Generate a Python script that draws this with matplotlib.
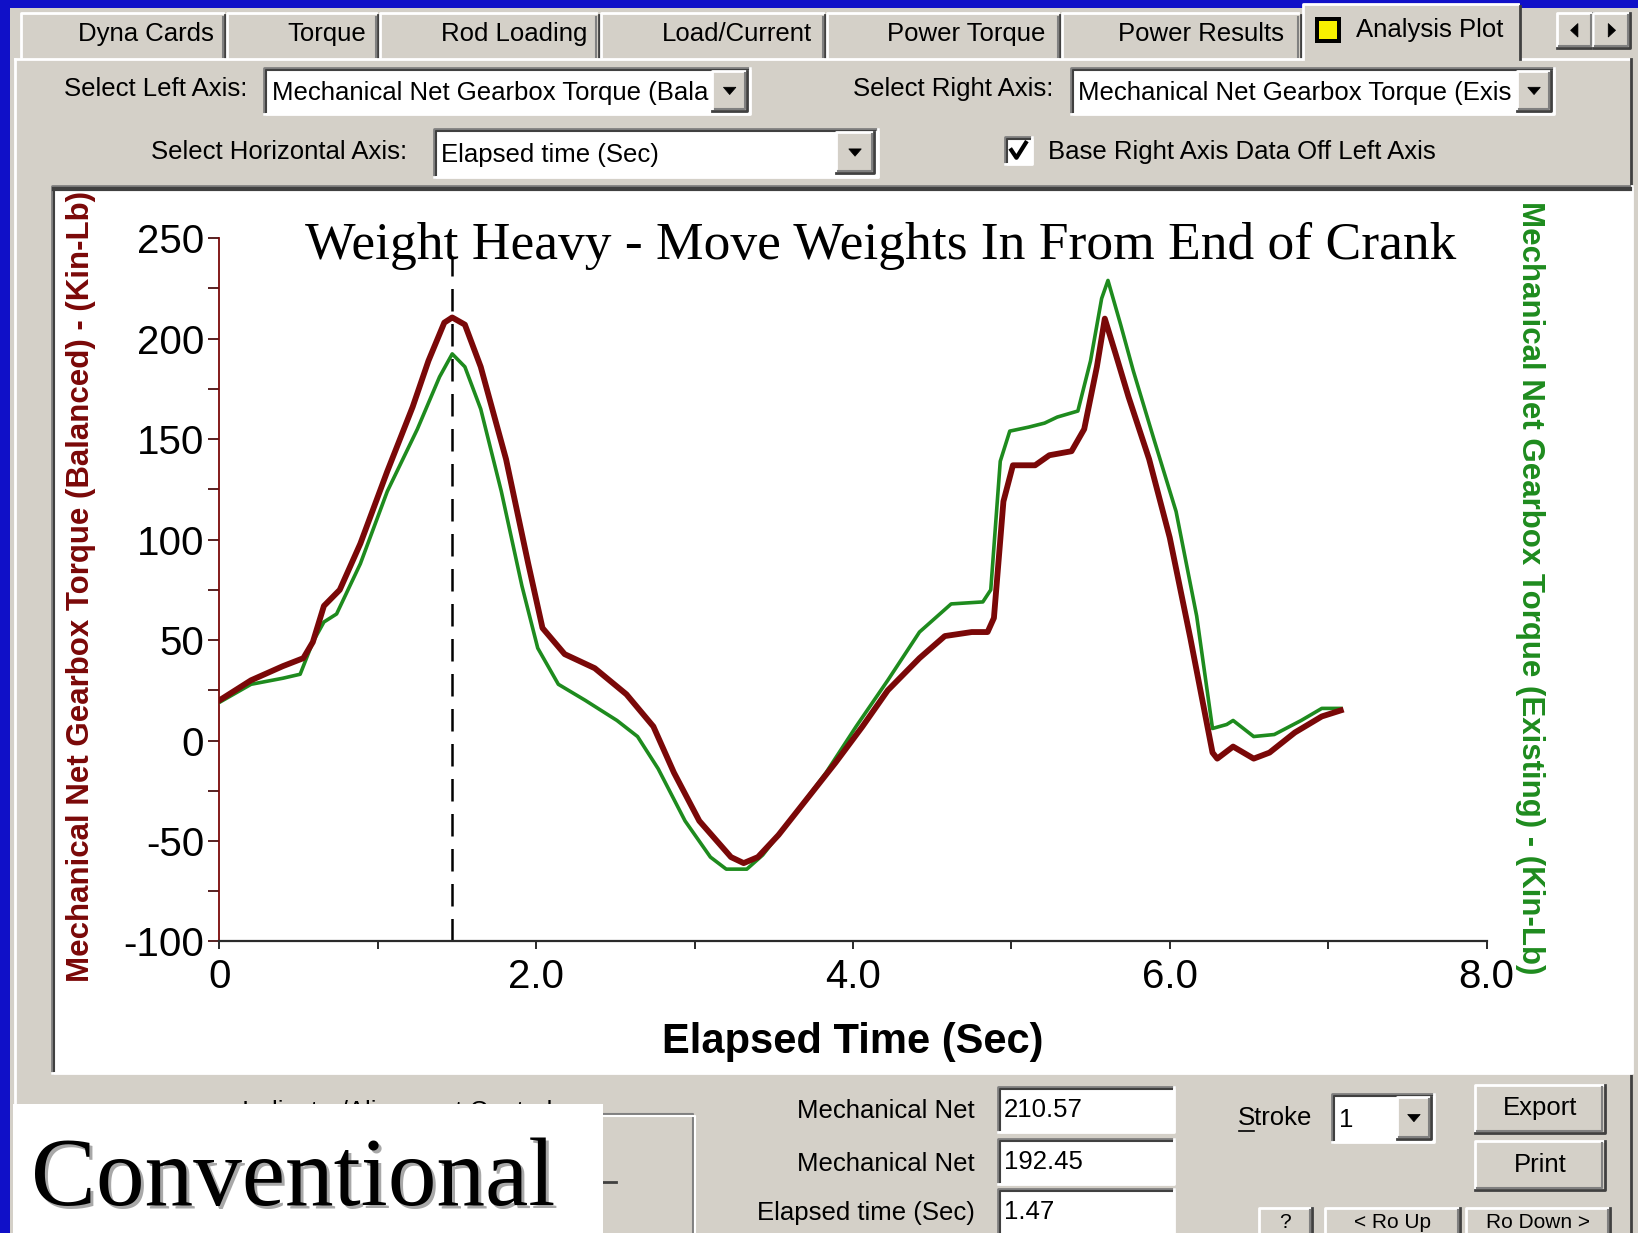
import numpy as np
import matplotlib
matplotlib.use("Agg")
import matplotlib.pyplot as plt
from matplotlib.patches import Rectangle, Polygon
from matplotlib.lines import Line2D

# ---------------------------------------------------------------------------
# Gearbox torque over one stroke (Kin-Lb)
# ---------------------------------------------------------------------------
time_balanced = [0.00, 0.20, 0.40, 0.53, 0.59, 0.66, 0.76, 0.89, 1.06, 1.22,
                 1.32, 1.42, 1.47, 1.55, 1.65, 1.81, 1.95, 2.04, 2.18, 2.37,
                 2.57, 2.74, 2.87, 3.03, 3.23, 3.31, 3.40, 3.53, 3.69, 3.89,
                 4.06, 4.22, 4.42, 4.58, 4.75, 4.85, 4.89, 4.95, 5.01, 5.15,
                 5.24, 5.38, 5.46, 5.54, 5.59, 5.66, 5.74, 5.87, 6.00, 6.13,
                 6.27, 6.30, 6.40, 6.53, 6.63, 6.79, 6.96, 7.08]
torque_balanced = [20, 30, 37, 41, 49, 67, 75, 98, 134, 166,
                   189, 208, 210.57, 207, 186, 140, 88, 56, 43, 36,
                   23, 7, -16, -40, -58, -61, -58, -47, -31, -11,
                   7, 25, 41, 52, 54, 54, 61, 119, 137, 137,
                   142, 144, 155, 186, 210, 192, 171, 140, 101, 51,
                   -6, -9, -3, -9, -6, 4, 12, 15]

time_existing = [0.00, 0.20, 0.40, 0.51, 0.59, 0.66, 0.74, 0.89, 1.06, 1.25,
                 1.39, 1.47, 1.55, 1.65, 1.78, 1.91, 2.01, 2.14, 2.31, 2.51,
                 2.64, 2.77, 2.94, 3.10, 3.20, 3.33, 3.43, 3.63, 3.83, 4.02,
                 4.22, 4.42, 4.62, 4.82, 4.87, 4.93, 4.99, 5.11, 5.21, 5.29,
                 5.42, 5.50, 5.57, 5.61, 5.69, 5.77, 5.90, 6.04, 6.17, 6.27,
                 6.36, 6.40, 6.53, 6.66, 6.83, 6.96, 7.08]
torque_existing = [19, 28, 31, 33, 49, 59, 63, 88, 124, 155,
                   181, 192.45, 186, 165, 124, 77, 46, 28, 20, 10,
                   2, -14, -40, -58, -64, -64, -57, -37, -16, 7,
                   30, 54, 68, 69, 75, 139, 154, 156, 158, 161,
                   164, 189, 220, 229, 207, 184, 150, 114, 62, 6,
                   8, 10, 2, 3, 10, 16, 16]

cursor_time = 1.47

x_ticks = [0, 2, 4, 6, 8]
x_tick_labels = ["0", "2.0", "4.0", "6.0", "8.0"]
x_minor = [1, 3, 5, 7]
y_ticks = [-100, -50, 0, 50, 100, 150, 200, 250]
y_tick_labels = ["-100", "-50", "0", "50", "100", "150", "200", "250"]
y_minor = [-75, -25, 25, 75, 125, 175, 225]

tab_names = ["Dyna Cards", "Torque", "Rod Loading", "Load/Current",
             "Power Torque", "Power Results", "Analysis Plot"]

title_text = "Weight Heavy - Move Weights In From End of Crank"
left_label = "Mechanical Net Gearbox Torque (Balanced) - (Kin-Lb)"
right_label = "Mechanical Net Gearbox Torque (Existing) - (Kin-Lb)"
x_label = "Elapsed Time (Sec)"

# ---------------------------------------------------------------------------
# Styling
# ---------------------------------------------------------------------------
BLUE = "#1010C8"
GRAY = "#D4D0C8"
DARK = "#808080"
DARKER = "#404040"
RED = "#7A0808"
GREEN = "#1E8B1E"
UI = "Liberation Sans"
SERIF = "Liberation Serif"
UI_SIZE = 18.5

W, H = 1568.0, 1180.0   # layout grid used for placing window elements

fig = plt.figure(figsize=(16.38, 12.33), dpi=100)
fig.patch.set_facecolor(BLUE)


def rect(x0, y0, x1, y1, fc, ec="none", lw=0, z=1):
    fig.add_artist(Rectangle((x0 / W, 1 - y1 / H), (x1 - x0) / W, (y1 - y0) / H,
                             transform=fig.transFigure, fc=fc, ec=ec, lw=lw,
                             zorder=z))


def line(xs, ys, color, lw=1.5, z=2, **kw):
    fig.add_artist(Line2D([x / W for x in xs], [1 - y / H for y in ys],
                          transform=fig.transFigure, color=color, lw=lw,
                          zorder=z, **kw))


def sunken(x0, y0, x1, y1, fc="white", z=2):
    rect(x0, y0, x1, y1, fc, z=z)
    line([x0, x0, x1], [y1, y0, y0], DARK, lw=2, z=z + 0.1)
    line([x0 + 2, x0 + 2, x1 - 2], [y1 - 2, y0 + 2, y0 + 2], DARKER, lw=1.5, z=z + 0.1)
    line([x0, x1, x1], [y1, y1, y0], "white", lw=2, z=z + 0.1)


def raised(x0, y0, x1, y1, fc=GRAY, z=2):
    rect(x0, y0, x1, y1, fc, z=z)
    line([x0, x0, x1], [y1, y0, y0], "white", lw=2, z=z + 0.1)
    line([x0, x1, x1], [y1, y1, y0], DARKER, lw=2, z=z + 0.1)
    line([x0 + 2, x1 - 2, x1 - 2], [y1 - 2, y1 - 2, y0 + 2], DARK, lw=1.5, z=z + 0.1)


def label(x, y, s, size=UI_SIZE, ha="left", va="center", color="black", z=5, **kw):
    fig.text(x / W, 1 - y / H, s, fontsize=size, ha=ha, va=va, color=color,
             family=UI, zorder=z, **kw)


def triangle(cx, cy, w, h, direction="down", z=6):
    if direction == "down":
        pts = [(cx - w / 2, cy - h / 2), (cx + w / 2, cy - h / 2), (cx, cy + h / 2)]
    elif direction == "left":
        pts = [(cx + h / 2, cy - w / 2), (cx + h / 2, cy + w / 2), (cx - h / 2, cy)]
    else:
        pts = [(cx - h / 2, cy - w / 2), (cx - h / 2, cy + w / 2), (cx + h / 2, cy)]
    fig.add_artist(Polygon([(px / W, 1 - py / H) for px, py in pts], closed=True,
                           transform=fig.transFigure, fc="black", ec="black",
                           lw=0.5, zorder=z))


def combo(x0, y0, x1, y1, text, btn_w=34):
    sunken(x0, y0, x1, y1)
    raised(x1 - btn_w - 2, y0 + 3, x1 - 3, y1 - 3, z=3)
    triangle(x1 - 3 - (btn_w - 1) / 2, (y0 + y1) / 2, 12, 7, "down")
    label(x0 + 7, (y0 + y1) / 2 + 2, text)


# ---------------------------------------------------------------------------
# Window body and tab strip
# ---------------------------------------------------------------------------
rect(10, 8, W + 2, H + 2, GRAY, z=0.5)

tab_edges = [(20, 215), (217, 362), (364, 573), (575, 790), (792, 1015), (1017, 1245)]
tab_text_x = [140, 313, 492, 705, 925, 1150]
for (x0, x1), tx, name in zip(tab_edges, tab_text_x, tab_names[:-1]):
    rect(x0, 12, x1, 55, GRAY, z=1)
    line([x0, x0, x1 - 2], [55, 12, 12], "white", lw=2, z=1.2)
    line([x1, x1], [14, 55], DARKER, lw=2, z=1.2)
    line([x1 - 2, x1 - 2], [16, 55], DARK, lw=1.5, z=1.2)
    label(tx, 33, name, ha="center")

# selected tab
sx0, sx1 = 1247, 1455
rect(sx0, 4, sx1, 58, GRAY, z=1.5)
line([sx0, sx0, sx1 - 2], [56, 4, 4], "white", lw=2, z=1.6)
line([sx1, sx1], [6, 56], DARKER, lw=2, z=1.6)
rect(1259, 16, 1284, 41, "black", z=2)
rect(1263, 20, 1280, 37, "#F8F000", z=2.1)
label(1298, 29, tab_names[-1], ha="left")

# scroll arrows for the tab strip
raised(1490, 12, 1525, 46)
raised(1525, 12, 1560, 46)
triangle(1507, 29, 13, 7, "left")
triangle(1543, 29, 13, 7, "right")

# panel edge below tabs
line([14, sx0], [56, 56], "white", lw=2, z=1.3)
line([sx1, 1560], [56, 56], "white", lw=2, z=1.3)
line([14, 14], [56, H + 2], "white", lw=2, z=1.3)
line([1561, 1561], [56, H + 2], DARKER, lw=2, z=1.3)

# axis selectors
label(237, 85, "Select Left Axis:", ha="right")
combo(253, 65, 718, 109, "Mechanical Net Gearbox Torque (Bala")
label(1008, 85, "Select Right Axis:", ha="right")
combo(1025, 65, 1488, 109, "Mechanical Net Gearbox Torque (Exis")
label(390, 145, "Select Horizontal Axis:", ha="right")
combo(415, 123, 840, 169, "Elapsed time (Sec)", btn_w=38)

sunken(962, 131, 988, 157)
line([967, 973, 983], [142, 151, 135], "black", lw=3, z=4, solid_capstyle="butt")
label(1003, 145, "Base Right Axis Data Off Left Axis")

# plot panel
sunken(50, 178, 1562, 1027)
line([52, 1560], [181, 181], DARKER, lw=3, z=2.2)

# ---------------------------------------------------------------------------
# Torque plot
# ---------------------------------------------------------------------------
ax_l, ax_r, ax_t, ax_b = 210, 1423, 228, 901
ax = fig.add_axes([ax_l / W, 1 - ax_b / H, (ax_r - ax_l) / W, (ax_b - ax_t) / H])
ax.set_zorder(5)
ax.patch.set_visible(False)

ax.plot(time_existing, torque_existing, color=GREEN, lw=2.6,
        solid_joinstyle="round", zorder=3)
ax.plot(time_balanced, torque_balanced, color=RED, lw=4.2,
        solid_joinstyle="round", zorder=4)
ax.plot([cursor_time, cursor_time], [-100, 240], color="black", lw=1.8,
        dashes=(9, 5), zorder=2)

ax.set_xlim(0, 8)
ax.set_ylim(-100, 250)
ax.set_xticks(x_ticks)
ax.set_xticklabels(x_tick_labels)
ax.set_xticks(x_minor, minor=True)
ax.set_yticks(y_ticks)
ax.set_yticklabels(y_tick_labels)
ax.set_yticks(y_minor, minor=True)

for side in ("top", "right"):
    ax.spines[side].set_visible(False)
ax.spines["left"].set_color(RED)
ax.spines["left"].set_linewidth(1.3)
ax.spines["bottom"].set_color("#2A2A2A")
ax.spines["bottom"].set_linewidth(1.6)

ax.tick_params(axis="y", which="both", direction="out", length=8, width=1.3,
               color="#4A1010", labelsize=29, pad=3)
ax.tick_params(axis="x", which="both", direction="out", length=6, width=1.4,
               color="#2A2A2A", labelsize=29, pad=6)
for lab in ax.get_xticklabels() + ax.get_yticklabels():
    lab.set_family(UI)

fig.text(843 / W, 1 - 235 / H, title_text, family=SERIF, fontsize=38.5,
         ha="center", va="center", zorder=6)
fig.text(78 / W, 1 - 561 / H, left_label, family=UI, fontsize=22.5,
         fontweight="bold", color=RED, rotation=90, ha="center", va="center",
         zorder=6)
fig.text(1465 / W, 1 - 562 / H, right_label, family=UI, fontsize=22.5,
         fontweight="bold", color=GREEN, rotation=-90, ha="center", va="center",
         zorder=6)
fig.text(816 / W, 1 - 997 / H, x_label, family=UI, fontsize=30,
         fontweight="bold", ha="center", va="center", zorder=6)

# ---------------------------------------------------------------------------
# Cursor readout and controls
# ---------------------------------------------------------------------------
i_bal = time_balanced.index(cursor_time)
i_ex = time_existing.index(cursor_time)
readouts = [("Mechanical Net", f"{torque_balanced[i_bal]:.2f}", 1040, 1083),
            ("Mechanical Net", f"{torque_existing[i_ex]:.2f}", 1090, 1133),
            ("Elapsed time (Sec)", f"{cursor_time:.2f}", 1138, 1185)]
for name, value, y0, y1 in readouts:
    sunken(955, y0, 1124, y1)
    label(933, (y0 + min(y1, 1180)) / 2 + 2, name, ha="right")
    label(961, (y0 + min(y1, 1180)) / 2 + 1, value)

label(1185, 1070, "Stroke")
line([1186, 1200], [1082, 1082], "black", lw=1.2, z=6)
combo(1275, 1047, 1373, 1093, "1")

raised(1412, 1038, 1536, 1084)
label(1474, 1060, "Export", ha="center")
raised(1412, 1092, 1536, 1139)
label(1474, 1115, "Print", ha="center")

for x0, x1, txt in [(1205, 1256, "?"), (1268, 1398, "< Ro Up"),
                    (1403, 1541, "Ro Down >")]:
    raised(x0, 1156, x1, 1215)
    label((x0 + x1) / 2, 1179, txt, size=15, ha="center", va="bottom")

# indicator group box, largely covered by the caption card
line([577, 663, 663], [1066, 1066, H + 2], DARK, lw=1.5, z=2)
line([577, 665, 665], [1068, 1068, H + 2], "white", lw=1.5, z=2)
label(380, 1064, "Indicator/Alignment Control", ha="center", z=3)
line([577, 590], [1131, 1131], DARKER, lw=2, z=3)

# caption card
rect(12, 1057, 577, H + 2, "white", z=10)
fig.text(33 / W, 1 - 1134 / H, "Conventional", family=SERIF, fontsize=70,
         color="#A8A8A8", ha="left", va="center", zorder=10.5)
fig.text(30 / W, 1 - 1131 / H, "Conventional", family=SERIF, fontsize=70,
         color="black", ha="left", va="center", zorder=11)

fig.savefig("out.png", dpi=100, facecolor=fig.get_facecolor())
